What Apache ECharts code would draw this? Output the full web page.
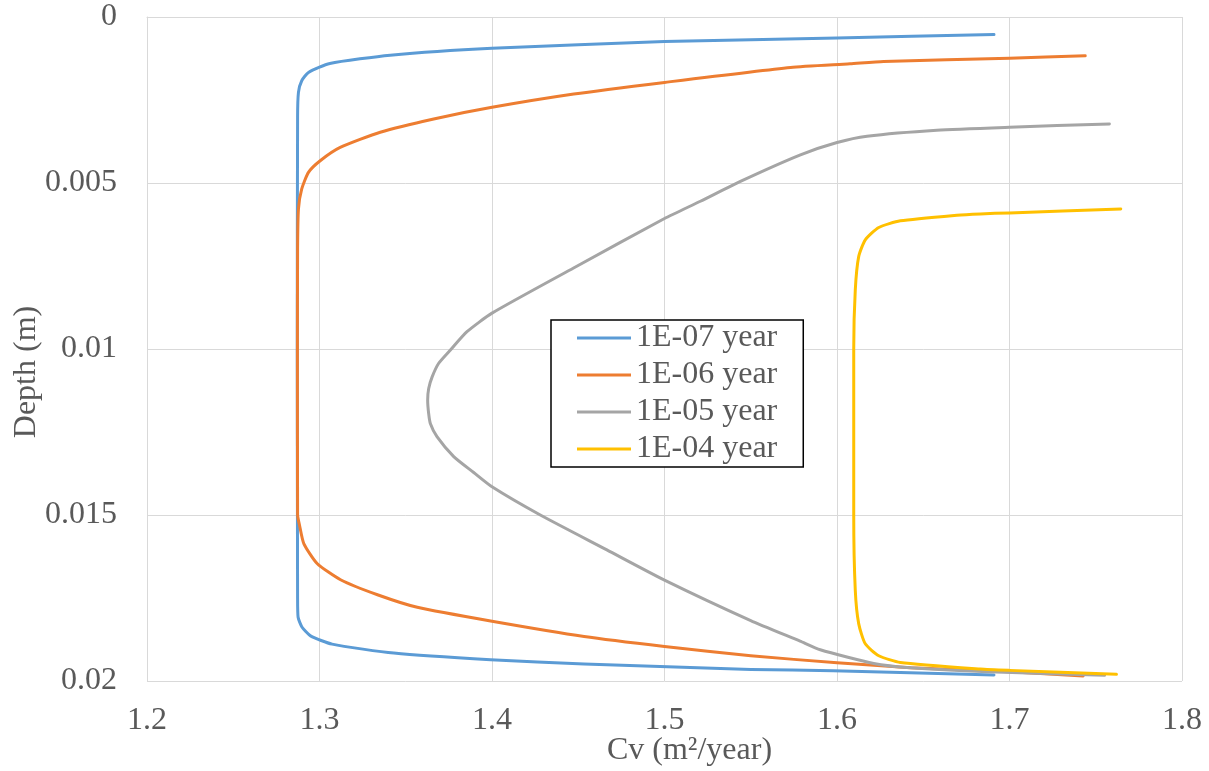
<!DOCTYPE html>
<html>
<head>
<meta charset="utf-8">
<title>Cv vs depth</title>
<script src="https://cdn.jsdelivr.net/npm/echarts@6/dist/echarts.min.js"></script>
<style>
  html, body { margin: 0; padding: 0; background: #fff; }
  #chart { width: 1209px; height: 771px; }
</style>
</head>
<body>
<div id="chart"></div>
<script>
// tick values of both axes
const xTicks = [1.2, 1.3, 1.4, 1.5, 1.6, 1.7, 1.8]
const yTicks = [0, 0.005, 0.01, 0.015, 0.02]

const seriesNames = ['1E-07 year', '1E-06 year', '1E-05 year', '1E-04 year']
const seriesColors = ['#5B9BD5', '#ED7D31', '#A5A5A5', '#FFC000']

// [Cv (m2/year), depth (m)], in drawing order
const cv1e07 = [
  [1.691, 0.00053], [1.60, 0.00063], [1.50, 0.00074], [1.40, 0.00094],
  [1.341, 0.00115], [1.306, 0.00140], [1.2936, 0.00167], [1.2897, 0.00192],
  [1.2878, 0.00227], [1.2873, 0.0030], [1.2871, 0.0100], [1.2873, 0.0175],
  [1.2876, 0.01808], [1.2899, 0.01838], [1.2948, 0.01864], [1.3073, 0.01889],
  [1.3431, 0.01916], [1.3992, 0.01936], [1.4534, 0.01949], [1.5501, 0.01965],
  [1.5978, 0.01969], [1.691, 0.01982],
]
const cv1e06 = [
  [1.7439, 0.00117], [1.70, 0.00124], [1.627, 0.00134], [1.6075, 0.00141],
  [1.5731, 0.00152], [1.50, 0.00197], [1.4474, 0.00232], [1.40, 0.00272],
  [1.3662, 0.00307], [1.3352, 0.00347], [1.3120, 0.00393], [1.3004, 0.00433],
  [1.2936, 0.00468], [1.2897, 0.00518], [1.2878, 0.00578], [1.2873, 0.0070],
  [1.2872, 0.0100], [1.2873, 0.0150], [1.2884, 0.01530], [1.2909, 0.01586],
  [1.2986, 0.01646], [1.3122, 0.01695], [1.3340, 0.01741], [1.3567, 0.01778],
  [1.40, 0.01820], [1.4534, 0.01866], [1.50, 0.01896], [1.55, 0.01924],
  [1.60, 0.01945], [1.6427, 0.01960], [1.70, 0.01972], [1.7427, 0.01985],
]
const cv1e05 = [
  [1.7579, 0.00322], [1.70, 0.00332], [1.6579, 0.00341], [1.6174, 0.00359],
  [1.60, 0.00378], [1.5788, 0.00415], [1.5440, 0.00495], [1.5208, 0.00555],
  [1.50, 0.00607], [1.4473, 0.00756], [1.40, 0.00892], [1.3855, 0.00948],
  [1.3759, 0.01003], [1.3691, 0.01043], [1.3653, 0.01084], [1.3633, 0.01119],
  [1.3627, 0.01154], [1.3633, 0.01195], [1.3643, 0.01225], [1.3681, 0.01264],
  [1.3778, 0.01324], [1.3894, 0.01372], [1.40, 0.01415], [1.4280, 0.01500],
  [1.4666, 0.01605], [1.50, 0.01696], [1.55, 0.01818], [1.5786, 0.01880],
  [1.5903, 0.01906], [1.6213, 0.01947], [1.6427, 0.01960], [1.6876, 0.01972],
  [1.7551, 0.01983],
]
const cv1e04 = [
  [1.7645, 0.00578], [1.70, 0.00590], [1.6831, 0.00593], [1.6695, 0.00597],
  [1.6367, 0.00614], [1.6242, 0.00634], [1.6164, 0.00671], [1.6126, 0.00721],
  [1.6106, 0.00822], [1.6097, 0.0100], [1.6097, 0.0150], [1.6106, 0.01727],
  [1.6126, 0.01828], [1.6164, 0.01888], [1.6242, 0.01924], [1.6367, 0.01944],
  [1.6831, 0.01964], [1.70, 0.01968], [1.762, 0.01980],
]

const seriesData = [cv1e07, cv1e06, cv1e05, cv1e04]

const textColor = '#595959'
const gridColor = '#D9D9D9'
const font = '"Liberation Serif", "Times New Roman", serif'

const chart = echarts.init(document.getElementById('chart'), null, { renderer: 'canvas' })

chart.setOption({
  animation: false,
  backgroundColor: '#fff',
  textStyle: { fontFamily: font },
  grid: { left: 147, right: 27, top: 17, bottom: 90, containLabel: false, outerBoundsMode: 'none' },
  legend: {
    orient: 'vertical',
    left: 551,
    top: 320,
    data: seriesNames,
    icon: 'rect',
    itemWidth: 54,
    itemHeight: 3,
    itemGap: 5,
    padding: [2, 26, 2, 26],
    borderColor: '#000',
    borderWidth: 1.5,
    backgroundColor: '#fff',
    textStyle: { color: textColor, fontSize: 32, fontFamily: font },
  },
  xAxis: {
    type: 'value',
    min: xTicks[0],
    max: xTicks[xTicks.length - 1],
    interval: 0.1,
    name: 'Cv (m²/year)',
    nameLocation: 'middle',
    nameGap: 54,
    nameMoveOverlap: false,
    nameTextStyle: { color: textColor, fontSize: 32, fontFamily: font, padding: [0, 0, 0, 50] },
    axisLine: { show: true, lineStyle: { color: gridColor, width: 1 } },
    axisTick: { show: false },
    axisLabel: { color: textColor, fontSize: 32, fontFamily: font, margin: 24 },
    splitLine: { show: true, lineStyle: { color: gridColor, width: 1 } },
  },
  yAxis: {
    type: 'value',
    inverse: true,
    min: yTicks[0],
    max: yTicks[yTicks.length - 1],
    interval: yTicks[1] - yTicks[0],
    name: 'Depth (m)',
    nameLocation: 'middle',
    nameGap: 104,
    nameMoveOverlap: false,
    nameTextStyle: { color: textColor, fontSize: 32, fontFamily: font, padding: [0, 46, 0, 0] },
    axisLine: { show: true, lineStyle: { color: gridColor, width: 1 } },
    axisTick: { show: false },
    axisLabel: {
      color: textColor,
      fontSize: 32,
      fontFamily: font,
      margin: 30,
      formatter: (v) => String(yTicks.find((t) => Math.abs(t - v) < 1e-9) ?? v),
    },
    splitLine: { show: true, lineStyle: { color: gridColor, width: 1 } },
  },
  series: seriesData.map((data, i) => ({
    name: seriesNames[i],
    type: 'line',
    data,
    symbol: 'none',
    smooth: 0.2,
    clip: true,
    lineStyle: { color: seriesColors[i], width: 3, cap: 'round', join: 'round' },
    itemStyle: { color: seriesColors[i] },
  })),
})
</script>
</body>
</html>
